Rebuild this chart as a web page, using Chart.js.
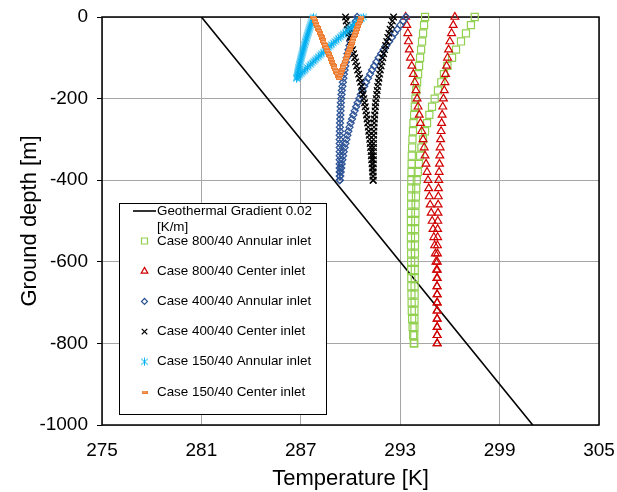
<!DOCTYPE html>
<html>
<head>
<meta charset="utf-8">
<script src="https://cdn.jsdelivr.net/npm/chart.js@4/dist/chart.umd.min.js"></script>
<style>
  html, body { margin: 0; padding: 0; background: #fff; }
  #tempChart { display: block; }
</style>
</head>
<body>
<canvas id="tempChart" width="617" height="492"></canvas>
<script>
//------------------------------------------ depth grids (m) ------------------------------------------
const depth800 = [0, -20, -40, -60, -80, -100, -120, -140, -160, -180, -200, -220, -240, -260, -280, -300, -320, -340, -360, -380, -400,
  -420, -440, -460, -480, -500, -520, -540, -560, -580, -600, -620, -640, -660, -680, -700, -720, -740, -760, -780, -800];
const depth400 = [0, -10, -20, -30, -40, -50, -60, -70, -80, -90, -100, -110, -120, -130, -140, -150, -160, -170, -180, -190, -200,
  -210, -220, -230, -240, -250, -260, -270, -280, -290, -300, -310, -320, -330, -340, -350, -360, -370, -380, -390, -400];
const depth150 = [0, -3.75, -7.5, -11.25, -15, -18.75, -22.5, -26.25, -30, -33.75, -37.5, -41.25, -45, -48.75, -52.5, -56.25, -60,
  -63.75, -67.5, -71.25, -75, -78.75, -82.5, -86.25, -90, -93.75, -97.5, -101.25, -105, -108.75, -112.5, -116.25, -120, -123.75,
  -127.5, -131.25, -135, -138.75, -142.5, -146.25, -150];

//------------------------------------------ temperatures (K) ------------------------------------------
// each case: one array per pipe (going down / coming back up), same order as its depth grid
const annular800Down = [297.5, 297.27, 296.97, 296.67, 296.37, 296.13, 295.85, 295.64, 295.48, 295.28, 295.08, 294.92, 294.76, 294.62,
  294.5, 294.38, 294.28, 294.2, 294.13, 294.06, 294.0, 293.97, 293.95, 293.93, 293.92, 293.91, 293.9, 293.9, 293.89, 293.89, 293.88,
  293.88, 293.88, 293.87, 293.87, 293.87, 293.86, 293.86, 293.86, 293.85, 293.85];
const annular800Up = [294.5, 294.44, 294.38, 294.32, 294.26, 294.2, 294.14, 294.08, 294.02, 293.97, 293.92, 293.88, 293.84, 293.8,
  293.77, 293.74, 293.72, 293.7, 293.69, 293.68, 293.67, 293.66, 293.66, 293.66, 293.65, 293.65, 293.65, 293.65, 293.65, 293.66,
  293.66, 293.66, 293.67, 293.67, 293.68, 293.69, 293.7, 293.72, 293.75, 293.78, 293.82];

const center800Down = [293.33, 293.4, 293.46, 293.5, 293.55, 293.62, 293.7, 293.79, 293.88, 293.95, 294.02, 294.08, 294.15, 294.22,
  294.3, 294.38, 294.45, 294.5, 294.56, 294.62, 294.68, 294.72, 294.76, 294.81, 294.87, 294.93, 294.98, 295.03, 295.08, 295.12,
  295.16, 295.19, 295.21, 295.22, 295.23, 295.23, 295.23, 295.23, 295.23, 295.23, 295.23];
const center800Up = [296.3, 296.2, 296.1, 296.0, 295.92, 295.86, 295.8, 295.74, 295.7, 295.66, 295.61, 295.57, 295.53, 295.5, 295.47,
  295.44, 295.41, 295.39, 295.37, 295.35, 295.33, 295.31, 295.3, 295.29, 295.28, 295.27, 295.26, 295.26, 295.25, 295.25, 295.24,
  295.24, 295.24, 295.23, 295.23, 295.23, 295.23, 295.23, 295.23, 295.23, 295.23];

const annular400Down = [293.35, 293.18, 293.0, 292.83, 292.66, 292.5, 292.33, 292.16, 292.0, 291.85, 291.7, 291.56, 291.43, 291.3,
  291.18, 291.06, 290.94, 290.83, 290.72, 290.62, 290.52, 290.43, 290.34, 290.25, 290.17, 290.09, 290.01, 289.94, 289.87, 289.81,
  289.75, 289.69, 289.64, 289.59, 289.55, 289.51, 289.47, 289.44, 289.41, 289.38, 289.35];
const annular400Up = [290.4, 290.33, 290.26, 290.2, 290.13, 290.07, 290.0, 289.94, 289.88, 289.82, 289.77, 289.72, 289.68, 289.64,
  289.6, 289.57, 289.54, 289.51, 289.48, 289.46, 289.44, 289.42, 289.41, 289.4, 289.39, 289.38, 289.37, 289.36, 289.36, 289.35,
  289.35, 289.35, 289.35, 289.35, 289.35, 289.35, 289.35, 289.35, 289.35, 289.35, 289.35];

const center400Down = [289.7, 289.74, 289.79, 289.84, 289.89, 289.95, 290.01, 290.07, 290.13, 290.19, 290.25, 290.31, 290.37, 290.43,
  290.49, 290.55, 290.61, 290.66, 290.71, 290.76, 290.81, 290.85, 290.89, 290.93, 290.97, 291.0, 291.04, 291.07, 291.1, 291.13,
  291.16, 291.19, 291.21, 291.24, 291.26, 291.28, 291.3, 291.32, 291.34, 291.35, 291.37];
const center400Up = [292.6, 292.53, 292.46, 292.39, 292.32, 292.25, 292.19, 292.12, 292.06, 292.0, 291.95, 291.9, 291.85, 291.8,
  291.76, 291.72, 291.68, 291.64, 291.61, 291.58, 291.55, 291.52, 291.5, 291.48, 291.46, 291.44, 291.43, 291.42, 291.41, 291.4,
  291.39, 291.39, 291.39, 291.38, 291.38, 291.38, 291.38, 291.37, 291.37, 291.37, 291.37];

const annular150Down = [290.77, 290.66, 290.55, 290.44, 290.33, 290.22, 290.12, 290.01, 289.9, 289.8, 289.69, 289.58, 289.48, 289.38,
  289.27, 289.17, 289.07, 288.96, 288.86, 288.76, 288.66, 288.56, 288.46, 288.36, 288.26, 288.16, 288.07, 287.97, 287.87, 287.78,
  287.68, 287.59, 287.49, 287.4, 287.3, 287.21, 287.12, 287.02, 286.93, 286.84, 286.75];
const annular150Up = [287.76, 287.73, 287.7, 287.66, 287.63, 287.6, 287.57, 287.54, 287.51, 287.48, 287.45, 287.42, 287.39, 287.37,
  287.34, 287.31, 287.28, 287.26, 287.23, 287.2, 287.18, 287.15, 287.13, 287.11, 287.08, 287.06, 287.03, 287.01, 286.99, 286.97,
  286.95, 286.92, 286.9, 286.88, 286.86, 286.84, 286.82, 286.81, 286.79, 286.77, 286.75];

const center150Down = [287.75, 287.79, 287.83, 287.87, 287.91, 287.94, 287.98, 288.02, 288.06, 288.1, 288.14, 288.18, 288.22, 288.25,
  288.29, 288.33, 288.37, 288.41, 288.45, 288.49, 288.53, 288.56, 288.6, 288.64, 288.68, 288.72, 288.76, 288.8, 288.84, 288.87,
  288.91, 288.95, 288.99, 289.03, 289.07, 289.11, 289.15, 289.18, 289.22, 289.26, 289.3];
const center150Up = [290.65, 290.62, 290.58, 290.55, 290.52, 290.48, 290.45, 290.41, 290.38, 290.35, 290.31, 290.28, 290.25, 290.21,
  290.18, 290.14, 290.11, 290.08, 290.04, 290.01, 289.98, 289.94, 289.91, 289.87, 289.84, 289.81, 289.77, 289.74, 289.71, 289.67,
  289.64, 289.6, 289.57, 289.54, 289.5, 289.47, 289.43, 289.4, 289.37, 289.33, 289.3];

// undisturbed ground: 0.02 K/m
const gradientTemps = [281, 301];
const gradientDepths = [0, -1000];

const xTicks = { min: 275, max: 305, step: 6 };
const yTicks = { min: -1000, max: 0, step: 200 };

//------------------------------------------ helpers ------------------------------------------
const FONT = '"Liberation Sans", Arial, sans-serif';

function toPoints(depths, temps) {
  return depths.map((d, i) => ({ x: temps[i], y: d }));
}
function pipeLoop(depths, down, up) {
  return toPoints(depths, down).concat(toPoints(depths, up).reverse());
}

// small bitmap markers for the two styles Chart.js has no shape for
function makeMarker(w, h, draw) {
  const c = document.createElement("canvas");
  c.width = w;
  c.height = h;
  draw(c.getContext("2d"));
  return c;
}
const asteriskMarker = makeMarker(9, 9, (g) => {
  g.strokeStyle = "#00B0F0";
  g.lineWidth = 1;
  g.beginPath();
  g.moveTo(4.5, 0.5); g.lineTo(4.5, 8.5);
  g.moveTo(1, 1.5); g.lineTo(8, 7.5);
  g.moveTo(1, 7.5); g.lineTo(8, 1.5);
  g.stroke();
});
const dashMarker = makeMarker(6, 3, (g) => {
  g.fillStyle = "#F4B183";
  g.fillRect(0, 0, 6, 3);
  g.strokeStyle = "#ED7D31";
  g.lineWidth = 1;
  g.strokeRect(0.5, 0.5, 5, 2);
});

function markerSeries(label, data, style, color, radius, width) {
  return {
    label: label,
    data: data,
    showLine: false,
    pointStyle: style,
    pointRadius: radius,
    pointHoverRadius: radius,
    pointBorderColor: color,
    pointBackgroundColor: "rgba(0,0,0,0)",
    pointBorderWidth: width,
    borderColor: color,
    backgroundColor: "rgba(0,0,0,0)",
    clip: false,
  };
}

const datasets = [
  {
    label: "Geothermal Gradient 0.02 [K/m]",
    data: toPoints(gradientDepths, gradientTemps),
    showLine: true,
    borderColor: "#000000",
    backgroundColor: "#000000",
    borderWidth: 1.6,
    pointRadius: 0,
    legendLine: true,
  },
  markerSeries("Case 800/40 Annular inlet", pipeLoop(depth800, annular800Down, annular800Up), "rect", "#92D050", 5, 1.2),
  markerSeries("Case 800/40 Center inlet", pipeLoop(depth800, center800Down, center800Up), "triangle", "#D00000", 4.5, 1.2),
  markerSeries("Case 400/40 Annular inlet", pipeLoop(depth400, annular400Down, annular400Up), "rectRot", "#2F5597", 3.5, 1.3),
  markerSeries("Case 400/40 Center inlet", pipeLoop(depth400, center400Down, center400Up), "crossRot", "#000000", 4.6, 1.3),
  markerSeries("Case 150/40 Annular inlet", pipeLoop(depth150, annular150Down, annular150Up), asteriskMarker, "#00B0F0", 4, 1),
  markerSeries("Case 150/40 Center inlet", pipeLoop(depth150, center150Down, center150Up), dashMarker, "#ED7D31", 3, 1),
];
// later series sit on top of earlier ones
datasets.forEach((ds, i) => { ds.order = datasets.length - i; });

//------------------------------------------ plugins ------------------------------------------
const plotFrame = {
  id: "plotFrame",
  beforeDatasetsDraw(chart) {
    const { ctx, chartArea: a } = chart;
    ctx.save();
    ctx.strokeStyle = "#000";
    ctx.lineWidth = 1.5;
    ctx.strokeRect(a.left, a.top, a.right - a.left, a.bottom - a.top);
    ctx.restore();
  },
};

function wrapText(ctx, text, maxWidth) {
  const words = text.split(" ");
  const lines = [];
  let line = "";
  words.forEach((w) => {
    const test = line ? line + " " + w : w;
    if (line && ctx.measureText(test).width > maxWidth) {
      lines.push(line);
      line = w;
    } else {
      line = test;
    }
  });
  lines.push(line);
  return lines;
}

const boxLegend = {
  id: "boxLegend",
  afterDraw(chart) {
    const ctx = chart.ctx;
    const box = { left: 119.5, top: 203.5, width: 207, height: 211 };
    const markerX = 144.5;
    const textX = 157;
    ctx.save();
    ctx.fillStyle = "#fff";
    ctx.fillRect(box.left, box.top, box.width, box.height);
    ctx.strokeStyle = "#000";
    ctx.lineWidth = 1;
    ctx.strokeRect(box.left, box.top, box.width, box.height);

    ctx.font = "13.4px " + FONT;
    ctx.textBaseline = "middle";
    let y = 211;
    chart.data.datasets.forEach((ds, i) => {
      const lines = wrapText(ctx, ds.label, 162);
      if (ds.legendLine) {
        ctx.strokeStyle = ds.borderColor;
        ctx.lineWidth = 1.6;
        ctx.beginPath();
        ctx.moveTo(133, y);
        ctx.lineTo(156, y);
        ctx.stroke();
      } else {
        ctx.strokeStyle = ds.pointBorderColor;
        ctx.fillStyle = ds.pointBackgroundColor;
        ctx.lineWidth = ds.pointBorderWidth;
        const opts = { pointStyle: ds.pointStyle, radius: ds.pointRadius * 0.85, borderWidth: ds.pointBorderWidth, rotation: 0 };
        if (Chart.helpers && Chart.helpers.drawPoint) {
          Chart.helpers.drawPoint(ctx, opts, markerX, y);
        }
      }
      ctx.fillStyle = "#000";
      lines.forEach((ln, k) => ctx.fillText(ln, textX, y + k * 16));
      y = i === 0 ? 241 : y + 30.2;
    });
    ctx.restore();
  },
};

//------------------------------------------ chart ------------------------------------------
const config = {
  type: "scatter",
  data: { datasets: datasets },
  options: {
    responsive: false,
    animation: false,
    layout: { padding: { top: 17, right: 18, left: 0, bottom: 0 } },
    plugins: {
      legend: { display: false },
      tooltip: { enabled: false },
    },
    scales: {
      x: {
        type: "linear",
        min: xTicks.min,
        max: xTicks.max,
        afterFit: (scale) => {
          scale.height = 67;
          scale.paddingLeft = 0;
          scale.paddingRight = 0;
        },
        ticks: {
          stepSize: xTicks.step,
          color: "#000",
          padding: 14,
          font: { family: FONT, size: 19 },
          callback: (v) => String(v),
        },
        grid: { color: "#a6a6a6", lineWidth: 1, drawTicks: false },
        border: { display: false },
        title: {
          display: true,
          text: "Temperature [K]",
          color: "#000",
          font: { family: FONT, size: 22 },
          padding: { top: 0, bottom: 0 },
        },
      },
      y: {
        type: "linear",
        min: yTicks.min,
        max: yTicks.max,
        afterFit: (scale) => {
          scale.width = 102;
          scale.paddingTop = 0;
          scale.paddingBottom = 0;
        },
        ticks: {
          stepSize: yTicks.step,
          color: "#000",
          padding: 9,
          font: { family: FONT, size: 19 },
          callback: (v) => String(v),
        },
        grid: { color: "#a6a6a6", lineWidth: 1, tickLength: 5, tickColor: "#000" },
        border: { display: false },
        title: {
          display: true,
          text: "Ground depth [m]",
          color: "#000",
          font: { family: FONT, size: 22 },
          padding: { top: 17, bottom: 0 },
        },
      },
    },
  },
  plugins: [plotFrame, boxLegend],
};

const tempChart = new Chart(document.getElementById("tempChart"), config);
</script>
</body>
</html>
